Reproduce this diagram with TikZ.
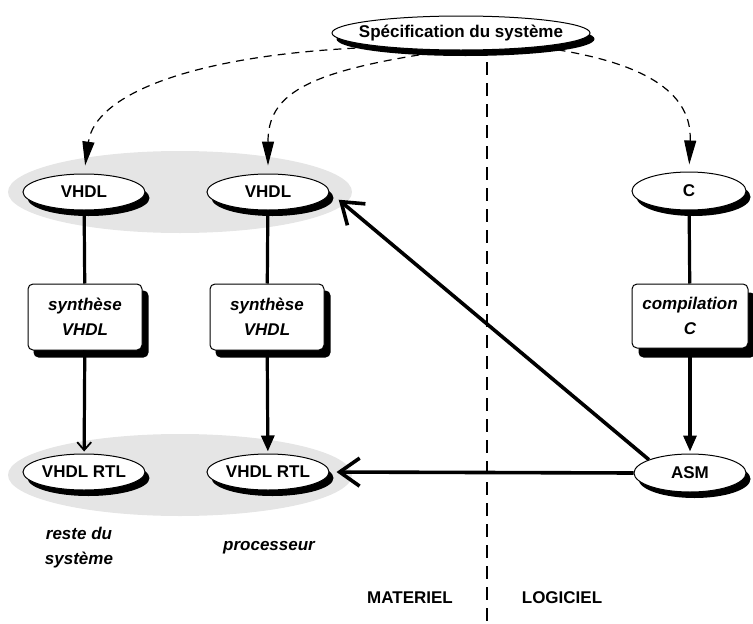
\documentclass[tikz,border=0pt]{standalone}
\usepackage{fontspec}
\setmainfont{Liberation Sans}
\usetikzlibrary{shapes.geometric,arrows.meta}
\pgfdeclarelayer{groups}
\pgfdeclarelayer{shadows}
\pgfsetlayers{groups,shadows,main}
\definecolor{shadowink}{RGB}{0,0,0}
\begin{document}
\begin{tikzpicture}[x=1pt,y=-1pt,
  every node/.style={font=\fontsize{17}{20}\selectfont\bfseries},
  oval/.style={ellipse, draw=black, line width=1pt, fill=white, inner sep=0pt,
    minimum width=122pt, minimum height=36pt},
  group/.style={ellipse, fill=black!10, inner sep=0pt, minimum width=344pt, minimum height=82pt},
  stepbox/.style={rectangle, rounded corners=5pt, draw=black, line width=1pt, fill=white,
    minimum width=114pt, minimum height=66pt, align=center, inner sep=2pt,
    font=\fontsize{17}{25}\selectfont\bfseries\itshape},
  dropfill/.style={fill=shadowink},
  note/.style={align=center, font=\fontsize{17}{25}\selectfont\bfseries\itshape},
  side/.style={font=\fontsize{17}{20}\selectfont\bfseries},
  flow/.style={line width=3.2pt},
  thinhead/.style={flow, -{Straight Barb[length=8pt,width=14pt,line width=1.8pt]}},
  filledhead/.style={flow, -{Triangle[length=16pt,width=13pt]}},
  feedback/.style={line width=3.6pt, -{Straight Barb[length=20pt,width=28pt,line width=3.6pt]}},
  spec/.style={line width=1.2pt, dash pattern=on 8pt off 6pt, -{Triangle[length=24pt,width=12pt]}},
  separator/.style={line width=2pt, dash pattern=on 13pt off 8pt}
]
\useasboundingbox (0,0) rectangle (753,624);

% shaded groups behind the VHDL ovals
\begin{pgfonlayer}{groups}
\node[group] (grpTop) at (180,192) {};
\node[group] (grpBot) at (180,475) {};
\end{pgfonlayer}

% hardware / software boundary
\draw[separator] (487,62) -- (487,624);

% ovals
\node[oval, minimum width=258pt, minimum height=34pt] (spec) at (461,33) {\makebox[0pt]{Spécification du système}};
\node[oval] (vhdlA) at (84,192) {\makebox[0pt]{VHDL}};
\node[oval] (vhdlB) at (268,192) {\makebox[0pt]{VHDL}};
\node[oval, minimum width=114pt, minimum height=38pt] (cSrc) at (689,191) {\makebox[0pt]{C}};
\node[oval] (rtlA) at (84,472) {\makebox[0pt]{VHDL RTL}};
\node[oval] (rtlB) at (268,472) {\makebox[0pt]{VHDL RTL}};
\node[oval, minimum width=112pt, minimum height=38pt] (asm) at (690,473) {\makebox[0pt]{ASM}};

% processing steps
\node[stepbox] (synA) at (85,317) {synthèse\\VHDL};
\node[stepbox] (synB) at (267,317) {synthèse\\VHDL};
\node[stepbox, minimum width=116pt, minimum height=64pt] (comp) at (690,316) {compilation\\C};

% offset black shadows under ovals and boxes
\begin{pgfonlayer}{shadows}
\fill[dropfill] ([shift={(4.5pt,-6pt)}]spec.center) ellipse [x radius=129pt, y radius=17pt];
\foreach \n in {vhdlA,vhdlB,rtlA,rtlB}
  \fill[dropfill] ([shift={(4.5pt,-6pt)}]\n.center) ellipse [x radius=61pt, y radius=18pt];
\fill[dropfill] ([shift={(4.5pt,-6pt)}]cSrc.center) ellipse [x radius=57pt, y radius=19pt];
\fill[dropfill] ([shift={(4.5pt,-6pt)}]asm.center) ellipse [x radius=56pt, y radius=19pt];
\foreach \n in {synA,synB}
  \fill[dropfill, rounded corners=5pt] ([shift={(6pt,-7pt)}]\n.south west) rectangle ([shift={(6pt,-7pt)}]\n.north east);
\fill[dropfill, rounded corners=5pt] ([shift={(7pt,-9pt)}]comp.south west) rectangle ([shift={(7pt,-9pt)}]comp.north east);
\end{pgfonlayer}

% labels
\node[note] (reste) at (79,548) {reste du\\système};
\node[note] (proc) at (269,548) {processeur};
\node[side] (mat) at (410,598) {MATERIEL};
\node[side] (log) at (562,598) {LOGICIEL};

% specification split
\draw[spec, shorten <=13pt, shorten >=8pt] (spec.190) .. controls (190,55) and (95,95) .. (vhdlA.north);
\draw[spec, shorten <=16pt, shorten >=8pt] (spec.235) .. controls (305,72) and (268,95) .. (vhdlB.north);
\draw[spec, shorten <=18pt, shorten >=7pt] (spec.350) .. controls (650,65) and (692,95) .. (cSrc.north);

% synthesis and compilation chains
\draw[flow] (vhdlA) -- (synA);
\draw[thinhead, shorten >=2pt] (synA) -- (rtlA);
\draw[flow] (vhdlB) -- (synB);
\draw[filledhead, shorten >=2pt] (synB) -- (rtlB);
\draw[flow] (cSrc) -- (comp);
\draw[filledhead, shorten >=2pt] (comp) -- (asm);

% assembler output fed back to the processor
\draw[feedback, shorten >=12pt] (asm.162) -- (vhdlB.east);
\draw[feedback, shorten >=7pt] (asm.west) -- (rtlB.east);
\end{tikzpicture}
\end{document}
